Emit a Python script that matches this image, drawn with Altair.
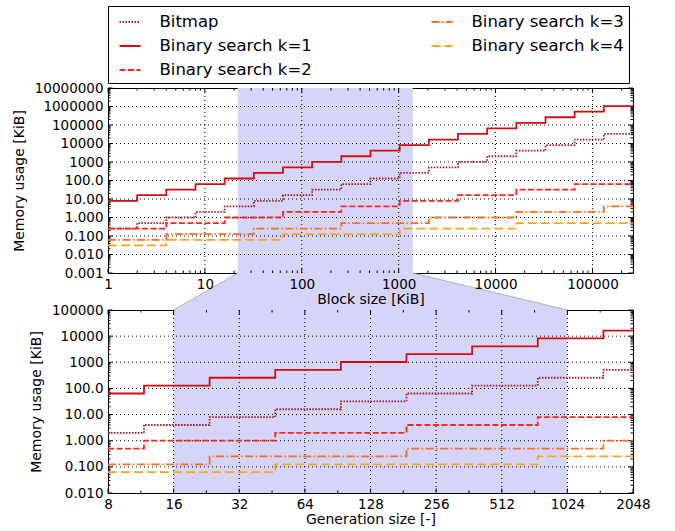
import math
import altair as alt
import pandas as pd

FONT = "DejaVu Sans"

# ---------------- data ----------------
series_names = ["Bitmap", "Binary search k=1", "Binary search k=2",
                "Binary search k=3", "Binary search k=4"]
series_colors = {"Bitmap": "#a8141c", "Binary search k=1": "#d40c10",
                 "Binary search k=2": "#ff2418", "Binary search k=3": "#ff6a1c",
                 "Binary search k=4": "#ffa31c"}
series_dash = {"Bitmap": [1.5, 1.5], "Binary search k=1": [1, 0],
               "Binary search k=2": [6, 2.5], "Binary search k=3": [8, 2.5, 1.5, 2.5],
               "Binary search k=4": [9, 4]}

# top panel: block size [KiB] step edges
block_edges = [1, 2, 4, 8, 16, 32, 64, 128, 256, 512, 1024, 2048, 4096, 8192,
               16384, 32768, 65536, 131072, 262144]
top_bitmap = [0.25, 0.5, 1, 2, 4, 8, 16, 32, 64, 128, 256, 512, 1024, 2048,
              4096, 8192, 16384, 32768]
top_k1 = [8, 16, 32, 64, 128, 256, 512, 1024, 2048, 4096, 8192, 16384, 32768,
          65536, 131072, 262144, 524288, 1048576]
top_k2 = [0.25, 0.25, 0.5, 0.5, 1, 1, 2, 2, 4, 4, 8, 8, 16, 16, 32, 32, 64, 64]
top_k3 = [0.0625, 0.0625, 0.125, 0.125, 0.125, 0.25, 0.25, 0.25, 0.5, 0.5, 0.5,
          1, 1, 1, 2, 2, 2, 4]
top_k4 = [0.03125, 0.03125, 0.0625, 0.0625, 0.0625, 0.0625, 0.125, 0.125, 0.125,
          0.125, 0.25, 0.25, 0.25, 0.25, 0.5, 0.5, 0.5, 0.5]

# bottom panel: generation size [-] step edges
gen_edges = [8, 11.7, 23.4, 46.8, 93.6, 187.2, 374.5, 749, 1498, 2048]
bot_bitmap = [2, 4, 8, 16, 32, 64, 128, 256, 512]
bot_k1 = [64, 128, 256, 512, 1024, 2048, 4096, 8192, 16384]
bot_k2 = [0.5, 1, 1, 2, 2, 4, 4, 8, 8]
bot_k3 = [0.125, 0.125, 0.25, 0.25, 0.25, 0.5, 0.5, 0.5, 1]
bot_k4 = [0.0625, 0.0625, 0.0625, 0.125, 0.125, 0.125, 0.125, 0.25, 0.25]

# highlighted range
shade_gen = [16, 1024]
shade_block = [21.875, 1400]

# axes
top_x_dom = [1, 262144]
top_y_dom = [0.001, 10000000]
top_x_ticks = [1, 10, 100, 1000, 10000, 100000]
top_x_labels = ["1", "10", "100", "1000", "10000", "100000"]
top_y_ticks = [0.001, 0.01, 0.1, 1, 10, 100, 1000, 10000, 100000, 1000000, 10000000]
top_y_labels = ["0.001", "0.010", "0.100", "1.000", "10.00", "100.0", "1000",
                "10000", "100000", "1000000", "10000000"]
bot_x_dom = [8, 2048]
bot_y_dom = [0.01, 100000]
bot_x_ticks = [8, 16, 32, 64, 128, 256, 512, 1024, 2048]
bot_x_labels = ["8", "16", "32", "64", "128", "256", "512", "1024", "2048"]
bot_y_ticks = [0.01, 0.1, 1, 10, 100, 1000, 10000, 100000]
bot_y_labels = ["0.010", "0.100", "1.000", "10.00", "100.0", "1000", "10000", "100000"]

top_x_minor = [m * 10 ** k for k in range(0, 6) for m in range(2, 10) if m * 10 ** k < 262144]
top_y_minor = [m * 10.0 ** k for k in range(-3, 7) for m in range(2, 10)]
bot_x_minor = [8 * 2 ** (k + 0.5) for k in range(8)]
bot_y_minor = [m * 10.0 ** k for k in range(-2, 5) for m in range(2, 10)]

W = 525
H_TOP = 185
H_BOT = 183
GAP = 37
SHADE = "#d5d5f9"
AX = dict(labelFont=FONT, titleFont=FONT, labelFontSize=13.5, titleFontSize=14,
          titleFontWeight="normal", labelColor="black", titleColor="black",
          labelFlush=False, labelOverlap=False)


def label_expr(ticks, labels):
    s = ""
    for t, l in zip(ticks, labels):
        s += f"datum.value < {t * 1.5!r} ? '{l}' : "
    return s + "''"


def step_frame(edges, series_vals):
    rows = []
    for name, vals in series_vals.items():
        for i, e in enumerate(edges):
            rows.append({"x": e, "y": vals[min(i, len(vals) - 1)], "series": name})
    return pd.DataFrame(rows)


legend = alt.Legend(
    title=None, orient="none", legendX=0, legendY=-82, columns=2,
    columnPadding=112, rowPadding=4, symbolType="stroke", symbolSize=441,
    symbolStrokeWidth=1.8, labelFontSize=16.5, labelFont=FONT, labelOffset=18,
    padding=4.5, strokeColor="black", fillColor="white", cornerRadius=0,
    labelColor="black", labelLimit=400, symbolOffset=6,
)


def panel(edges, series_vals, xdom, xbase, ydom, xticks, xlabels, yticks, ylabels,
          xminor, yminor, shade, H, xtitle, show_legend, inset=None):
    xs = alt.Scale(type="log", base=xbase, domain=xdom, nice=False)
    ys = alt.Scale(type="log", domain=ydom, nice=False)
    xaxis = alt.Axis(values=xticks, labelExpr=label_expr(xticks, xlabels), title=xtitle,
                     grid=False, ticks=False, domain=False, labelPadding=4,
                     titlePadding=2, zindex=1, **AX)
    yaxis = alt.Axis(values=yticks, labelExpr=label_expr(yticks, ylabels),
                     title="Memory usage [KiB]", grid=False, ticks=False, domain=False,
                     labelPadding=5, titlePadding=8, zindex=1, **AX)
    df = step_frame(edges, series_vals)

    shade_layer = alt.Chart(pd.DataFrame({"a": [shade[0]], "b": [shade[1]]})).mark_rect(
        color=SHADE).encode(
        x=alt.X("a:Q", scale=xs, axis=xaxis), x2="b:Q",
        y=alt.value(0), y2=alt.value(H))

    layers = [shade_layer]

    if inset is not None:
        layers += inset(xs, ys, xaxis, yaxis)

    xgrid = [t for t in xticks if xdom[0] < t < xdom[1]]
    ygrid = [t for t in yticks if ydom[0] < t < ydom[1]]
    layers.append(alt.Chart(pd.DataFrame({"v": xgrid})).mark_rule(
        color="black", strokeDash=[1, 3], strokeWidth=1).encode(
        x=alt.X("v:Q", scale=xs, axis=xaxis), y=alt.value(0), y2=alt.value(H)))
    layers.append(alt.Chart(pd.DataFrame({"v": ygrid})).mark_rule(
        color="black", strokeDash=[1, 3], strokeWidth=1).encode(
        y=alt.Y("v:Q", scale=ys, axis=yaxis), x=alt.value(0), x2=alt.value(W)))

    # inward ticks on all four sides
    for vals, ln in ((xticks, 4.5), (xminor, 2.5)):
        d = pd.DataFrame({"v": vals})
        layers.append(alt.Chart(d).mark_rule(color="black", strokeWidth=1).encode(
            x=alt.X("v:Q", scale=xs, axis=xaxis), y=alt.value(H), y2=alt.value(H - ln)))
        layers.append(alt.Chart(d).mark_rule(color="black", strokeWidth=1).encode(
            x=alt.X("v:Q", scale=xs, axis=xaxis), y=alt.value(0), y2=alt.value(ln)))
    for vals, ln in ((yticks, 4.5), (yminor, 2.5)):
        d = pd.DataFrame({"v": vals})
        layers.append(alt.Chart(d).mark_rule(color="black", strokeWidth=1).encode(
            y=alt.Y("v:Q", scale=ys, axis=yaxis), x=alt.value(0), x2=alt.value(ln)))
        layers.append(alt.Chart(d).mark_rule(color="black", strokeWidth=1).encode(
            y=alt.Y("v:Q", scale=ys, axis=yaxis), x=alt.value(W), x2=alt.value(W - ln)))

    lines = alt.Chart(df).mark_line(interpolate="step-after", strokeWidth=1.8).encode(
        x=alt.X("x:Q", scale=xs, axis=xaxis),
        y=alt.Y("y:Q", scale=ys, axis=yaxis),
        color=alt.Color("series:N", scale=alt.Scale(
            domain=series_names, range=[series_colors[s] for s in series_names]),
            legend=legend if show_legend else None),
        strokeDash=alt.StrokeDash("series:N", scale=alt.Scale(
            domain=series_names, range=[series_dash[s] for s in series_names]),
            legend=legend if show_legend else None),
    )
    layers.append(lines)
    return alt.layer(*layers).properties(width=W, height=H)


def top_inset(xs, ys, xaxis, yaxis):
    # connector between the highlighted block range and the lower panel's range
    lo_g, hi_g = bot_x_dom
    f_left = math.log(shade_gen[0] / lo_g) / math.log(hi_g / lo_g)
    f_right = math.log(shade_gen[1] / lo_g) / math.log(hi_g / lo_g)
    span = top_x_dom[1] / top_x_dom[0]
    xb_left = top_x_dom[0] * span ** f_left
    xb_right = top_x_dom[0] * span ** f_right
    y_low = top_y_dom[0] / (top_y_dom[1] / top_y_dom[0]) ** (GAP / H_TOP)
    poly = pd.DataFrame({"py": [top_y_dom[0], y_low],
                         "xl": [shade_block[0], xb_left],
                         "xr": [shade_block[1], xb_right]})
    edges = pd.DataFrame({"edge": ["l", "l", "r", "r"],
                          "px": [shade_block[0], xb_left, shade_block[1], xb_right],
                          "py": [top_y_dom[0], y_low, top_y_dom[0], y_low]})
    area = alt.Chart(poly).mark_area(orient="horizontal", color=SHADE, clip=False).encode(
        y=alt.Y("py:Q", scale=ys, axis=yaxis), x=alt.X("xl:Q", scale=xs, axis=xaxis),
        x2="xr:Q")
    edge = alt.Chart(edges).mark_line(color="#9a9a9a", strokeWidth=0.7, clip=False).encode(
        x=alt.X("px:Q", scale=xs, axis=xaxis), y=alt.Y("py:Q", scale=ys, axis=yaxis),
        detail="edge:N")
    return [area, edge]


top = panel(block_edges,
            {"Bitmap": top_bitmap, "Binary search k=1": top_k1,
             "Binary search k=2": top_k2, "Binary search k=3": top_k3,
             "Binary search k=4": top_k4},
            top_x_dom, 10, top_y_dom, top_x_ticks, top_x_labels, top_y_ticks,
            top_y_labels, top_x_minor, top_y_minor, shade_block, H_TOP,
            "Block size [KiB]", True, inset=top_inset)

bottom = panel(gen_edges,
               {"Bitmap": bot_bitmap, "Binary search k=1": bot_k1,
                "Binary search k=2": bot_k2, "Binary search k=3": bot_k3,
                "Binary search k=4": bot_k4},
               bot_x_dom, 2, bot_y_dom, bot_x_ticks, bot_x_labels, bot_y_ticks,
               bot_y_labels, bot_x_minor, bot_y_minor, shade_gen, H_BOT,
               "Generation size [-]", False)

chart = alt.vconcat(top, bottom, spacing=GAP, bounds="flush").resolve_scale(
    color="independent", strokeDash="independent").resolve_legend(
    color="independent", strokeDash="independent").properties(
    padding={"left": 11, "top": 5, "right": 5, "bottom": 5},
    background="white",
).configure_view(stroke="black", strokeWidth=1)

chart.save("out.html", embed_options={"renderer": "svg", "actions": False})
